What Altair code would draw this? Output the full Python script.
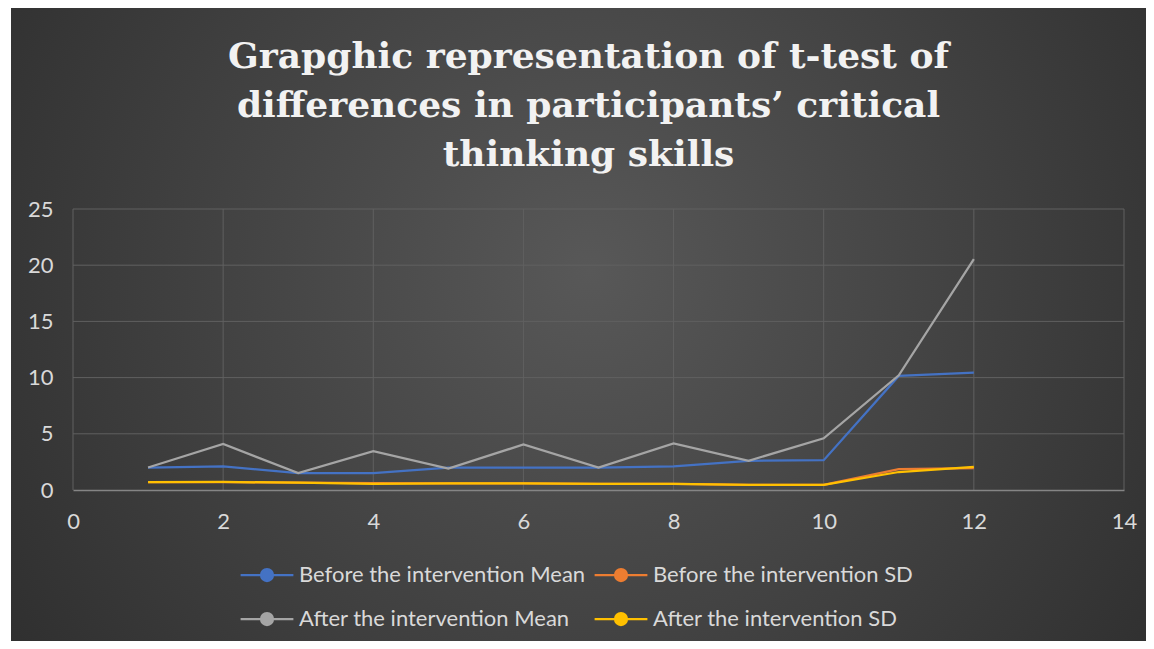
import altair as alt
import pandas as pd

x_vals = [1, 2, 3, 4, 5, 6, 7, 8, 9, 10, 11, 12]
before_mean = [2.0, 2.1, 1.5, 1.5, 2.0, 2.0, 2.0, 2.1, 2.6, 2.65, 10.15, 10.45]
before_sd = [0.7, 0.7, 0.65, 0.62, 0.6, 0.6, 0.55, 0.55, 0.45, 0.45, 1.85, 1.95]
after_mean = [2.0, 4.1, 1.5, 3.45, 1.9, 4.05, 2.0, 4.15, 2.6, 4.6, 10.2, 20.55]
after_sd = [0.7, 0.72, 0.65, 0.55, 0.6, 0.6, 0.55, 0.55, 0.45, 0.45, 1.6, 2.05]

series_names = [
    "Before the intervention Mean",
    "Before the intervention SD",
    "After the intervention Mean",
    "After the intervention SD",
]
series_colors = ["#4472C4", "#ED7D31", "#A5A5A5", "#FFC000"]
x_ticks = [0, 2, 4, 6, 8, 10, 12, 14]
y_ticks = [0, 5, 10, 15, 20, 25]
title_lines = [
    "Grapghic representation of t-test of",
    "differences in participants\u2019 critical",
    "thinking skills",
]

rows = []
for k, (name, vals) in enumerate(zip(series_names, [before_mean, before_sd, after_mean, after_sd])):
    for xv, yv in zip(x_vals, vals):
        rows.append({"x": xv, "y": yv, "series": name, "order": k})
df = pd.DataFrame(rows)
xgrid = pd.DataFrame({"gx": x_ticks})
ygrid = pd.DataFrame({"gy": y_ticks})

W, H = 1051, 281
PAD = {"left": 65, "top": 201, "right": 22, "bottom": 151}

legend_path = "M-4.4,0L-1,0M1,0L4.4,0M-1,0A1,1,0,1,0,1,0A1,1,0,1,0,-1,0Z"

legend = alt.Legend(
    title=None,
    orient="none",
    legendX=164,
    legendY=355,
    columns=2,
    direction="horizontal",
    symbolType=legend_path,
    symbolSize=144,
    symbolStrokeWidth=2.25,
    symbolOffset=19,
    symbolOpacity=1,
    labelOffset=21,
    labelFont="Lato",
    labelFontSize=22,
    labelColor="#D9D9D9",
    labelLimit=400,
    columnPadding=4,
    rowPadding=22,
)

xs = alt.Scale(domain=[0, 14], nice=False)
ys = alt.Scale(domain=[0, 25], nice=False)
stroke_scale = alt.Scale(domain=series_names, range=series_colors)

bg = alt.Chart(xgrid).mark_rect(
    clip=False,
    fill={
        "gradient": "radial",
        "x1": 0.5, "y1": 0.45, "r1": 0,
        "x2": 0.5, "y2": 0.45, "r2": 0.72,
        "stops": [
            {"offset": 0, "color": "#585858"},
            {"offset": 1, "color": "#272727"},
        ],
    },
).encode(
    x=alt.value(-62), x2=alt.value(1095), y=alt.value(-201), y2=alt.value(440)
).transform_filter("datum.gx == 0")

vgrid = alt.Chart(xgrid).mark_rule(color="#606060", strokeWidth=1).encode(
    x=alt.X("gx:Q", scale=xs)
)
hgrid = alt.Chart(ygrid).mark_rule(color="#606060", strokeWidth=1).encode(
    y=alt.Y("gy:Q", scale=ys)
).transform_filter("datum.gy > 0")

lines = alt.Chart(df).mark_line(strokeWidth=2.25).encode(
    x=alt.X("x:Q", scale=xs,
            axis=alt.Axis(values=x_ticks, title=None, grid=False, ticks=False, zindex=1,
                          format="d", labelFlush=False,
                          labelFont="Lato", labelFontSize=22, labelColor="#D9D9D9",
                          labelPadding=21, domainColor="#858585", domainWidth=1.5)),
    y=alt.Y("y:Q", scale=ys,
            axis=alt.Axis(values=y_ticks, title=None, grid=False, ticks=False, domain=False,
                          zindex=1, format="d", labelFlush=False,
                          labelFont="Lato", labelFontSize=22, labelColor="#D9D9D9",
                          labelPadding=20)),
    stroke=alt.Stroke("series:N", scale=stroke_scale, legend=legend, sort=series_names),
    detail="order:O",
    order=alt.Order("x:Q"),
)

pts = alt.Chart(df).mark_point(filled=True, size=30).encode(
    x=alt.X("x:Q", scale=xs),
    y=alt.Y("y:Q", scale=ys),
    fill=alt.Fill("series:N", scale=alt.Scale(domain=series_names, range=series_colors),
                  legend=legend, sort=series_names),
).transform_filter("false")

chart = alt.layer(bg, vgrid, hgrid, lines, pts).properties(
    width=W,
    height=H,
    autosize=alt.AutoSizeParams(type="none"),
    padding=PAD,
    background="#FFFFFF",
    title=alt.TitleParams(
        text=title_lines,
        font="DejaVu Serif",
        fontSize=36,
        fontWeight="bold",
        color="#F2F2F2",
        lineHeight=49,
        anchor="middle",
        dx=-10,
        offset=20,
        dy=186,
    ),
).configure_view(stroke=None)

chart.save("out.html", embed_options={"renderer": "svg", "actions": False})
